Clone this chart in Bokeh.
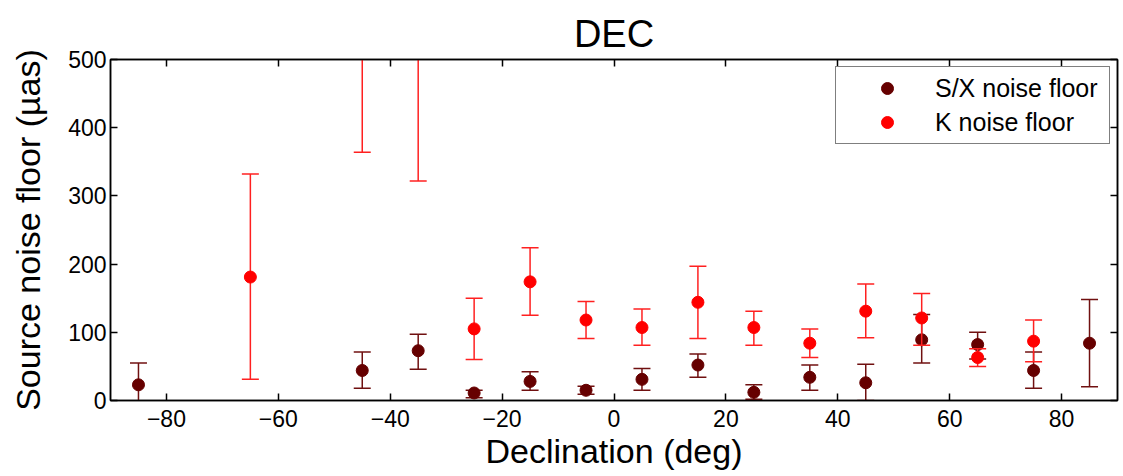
from bokeh.plotting import figure
from bokeh.models import ColumnDataSource, LinearAxis, FixedTicker, Range1d, Legend
from bokeh.embed import file_html
from bokeh.resources import INLINE

# ---- data ----
sx_dec = [-85, -45, -35, -25, -15, -5, 5, 15, 25, 35, 45, 55, 65, 75, 85]
sx_val = [23, 44, 73, 11, 28, 15, 31, 52, 12, 34, 26, 89, 82, 44, 84]
sx_lo = [-3, 18, 46, 4, 15, 9, 15, 34, 2, 15, 0, 55, 61, 18, 20]
sx_hi = [55, 71, 97, 15, 42, 21, 47, 68, 23, 52, 53, 126, 100, 71, 148]

k_dec = [-65, -45, -35, -25, -15, -5, 5, 15, 25, 35, 45, 55, 65, 75]
k_val = [181, 650, 620, 105, 174, 118, 107, 144, 107, 84, 131, 121, 63, 87]
k_lo = [31, 364, 322, 60, 125, 91, 81, 91, 81, 63, 92, 81, 50, 57]
k_hi = [332, 940, 920, 150, 224, 145, 134, 197, 131, 105, 171, 157, 76, 118]

x_ticks = [-80, -60, -40, -20, 0, 20, 40, 60, 80]
y_ticks = [0, 100, 200, 300, 400, 500]

FONT = "Liberation Sans"
SX_COL = "#660000"
SX_BAR = "#701010"
K_COL = "#ff0000"
K_BAR = "#ff2020"

p = figure(width=1123, height=476, output_backend="svg", toolbar_location=None,
           x_range=Range1d(-90, 90), y_range=Range1d(0, 500),
           min_border_left=110, min_border_right=6, min_border_top=59, min_border_bottom=76,
           title="DEC")

p.title.text_font = FONT
p.title.text_font_size = "38px"
p.title.text_font_style = "normal"
p.title.text_color = "black"
p.title.align = "center"

p.grid.visible = False
p.outline_line_color = "black"
p.outline_line_width = 1.5


def style_axis(ax, ticks, show_labels=True):
    ax.ticker = FixedTicker(ticks=ticks)
    ax.axis_line_color = "black"
    ax.axis_line_width = 1.5
    ax.major_tick_in = 7
    ax.major_tick_out = 0
    ax.major_tick_line_width = 1.5
    ax.major_tick_line_color = "black"
    ax.minor_tick_line_color = None
    ax.major_label_text_font = FONT
    ax.major_label_text_color = "black"
    ax.major_label_text_font_size = "23px"
    if show_labels:
        ax.major_label_standoff = 9
    else:
        ax.major_label_overrides = {t: "" for t in ticks}
        ax.major_label_standoff = 0
    ax.axis_label_text_font = FONT
    ax.axis_label_text_color = "black"
    ax.axis_label_text_font_size = "34px"
    ax.axis_label_text_font_style = "normal"


style_axis(p.xaxis[0], x_ticks)
style_axis(p.yaxis[0], y_ticks)
p.xaxis[0].axis_label = "Declination (deg)"
p.xaxis[0].axis_label_standoff = 2
p.xaxis[0].major_label_overrides = {t: ("\u2212" + str(-t) if t < 0 else str(t)) for t in x_ticks}
p.yaxis[0].major_label_standoff = 4
p.yaxis[0].axis_label = "Source noise floor (\u00b5as)"
p.yaxis[0].axis_label_standoff = 18

top_ax = LinearAxis()
style_axis(top_ax, x_ticks, show_labels=False)
p.add_layout(top_ax, "above")
right_ax = LinearAxis()
style_axis(right_ax, y_ticks, show_labels=False)
p.add_layout(right_ax, "right")

sx = ColumnDataSource(dict(x=sx_dec, y=sx_val, lo=sx_lo, hi=sx_hi))
ks = ColumnDataSource(dict(x=k_dec, y=k_val, lo=k_lo, hi=k_hi))

# S/X error bars
p.segment(x0="x", y0="lo", x1="x", y1="hi", source=sx, line_color=SX_BAR, line_width=1.5)
p.scatter(x="x", y="lo", source=sx, marker="dash", size=17, line_color=SX_BAR, line_width=1.5)
p.scatter(x="x", y="hi", source=sx, marker="dash", size=17, line_color=SX_BAR, line_width=1.5)
sx_r = p.scatter(x="x", y="y", source=sx, marker="circle", size=12,
                 fill_color=SX_COL, line_color=SX_COL)

# K error bars
p.segment(x0="x", y0="lo", x1="x", y1="hi", source=ks, line_color=K_BAR, line_width=1.5)
p.scatter(x="x", y="lo", source=ks, marker="dash", size=17, line_color=K_BAR, line_width=1.5)
p.scatter(x="x", y="hi", source=ks, marker="dash", size=17, line_color=K_BAR, line_width=1.5)
k_r = p.scatter(x="x", y="y", source=ks, marker="circle", size=12,
                fill_color=K_COL, line_color=K_COL)

legend = Legend(items=[("S/X noise floor", [sx_r]), ("K noise floor", [k_r])],
                location="top_right")
legend.margin = 7
legend.padding = 6
legend.glyph_width = 90
legend.glyph_height = 30
legend.label_height = 30
legend.label_width = 168
legend.label_standoff = 3
legend.spacing = 4
legend.label_text_font = FONT
legend.label_text_font_size = "25px"
legend.label_text_color = "black"
legend.border_line_color = "black"
legend.border_line_width = 1.5
legend.background_fill_color = "white"
legend.background_fill_alpha = 1.0
p.add_layout(legend, "center")

open("out.html", "w").write(file_html(p, INLINE))
